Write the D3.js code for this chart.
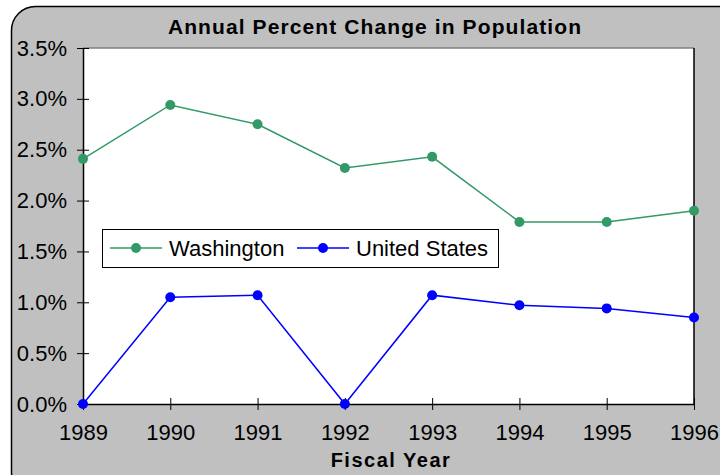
<!DOCTYPE html>
<html>
<head>
<meta charset="utf-8">
<script src="https://cdn.jsdelivr.net/npm/d3@7"></script>
<style>
  body { margin: 0; background: #fff; }
  svg { display: block; font-family: "Liberation Sans", Arial, sans-serif; }
</style>
</head>
<body>
<div id="chart"></div>
<script>
const width = 720;
const height = 475;

// data
const years = [1989, 1990, 1991, 1992, 1993, 1994, 1995, 1996];
const washington = [2.41, 2.94, 2.75, 2.32, 2.43, 1.79, 1.79, 1.90];
const unitedStates = [0.0, 1.05, 1.07, 0.0, 1.07, 0.97, 0.94, 0.85];
const yTicks = [0, 0.5, 1.0, 1.5, 2.0, 2.5, 3.0, 3.5];
const seriesNames = ["Washington", "United States"];
const seriesColors = ["#339966", "#0000ff"];

const margin = { top: 48, right: 26, bottom: 71, left: 83 };

const svg = d3.select("#chart").append("svg").attr("width", width).attr("height", height);

// outer chart frame
svg.append("rect")
  .attr("x", 11.5).attr("y", 6.5)
  .attr("width", 730).attr("height", 490)
  .attr("rx", 24).attr("ry", 24)
  .attr("fill", "#c0c0c0")
  .attr("stroke", "#000")
  .attr("stroke-width", 1.5);

const x = d3.scalePoint().domain(years).range([margin.left, width - margin.right]);
const y = d3.scaleLinear().domain([0, 3.5]).range([height - margin.bottom, margin.top]);

// plot area
svg.append("rect")
  .attr("x", margin.left).attr("y", margin.top)
  .attr("width", width - margin.right - margin.left)
  .attr("height", height - margin.bottom - margin.top)
  .attr("fill", "#fff");
svg.append("line")
  .attr("x1", margin.left).attr("x2", width - margin.right)
  .attr("y1", margin.top).attr("y2", margin.top)
  .attr("stroke", "#808080").attr("stroke-width", 1.5);
svg.append("line")
  .attr("x1", width - margin.right).attr("x2", width - margin.right)
  .attr("y1", margin.top).attr("y2", height - margin.bottom)
  .attr("stroke", "#000").attr("stroke-width", 1.5);

// title
svg.append("text")
  .attr("x", 375).attr("y", 34)
  .attr("text-anchor", "middle")
  .attr("font-size", 21).attr("font-weight", "bold")
  .attr("letter-spacing", 1.1)
  .text("Annual Percent Change in Population");

const tickFont = 22;

// y axis
const yAxis = svg.append("g")
  .attr("transform", `translate(${margin.left},0)`)
  .call(d3.axisLeft(y).tickValues(yTicks).tickFormat(d => d.toFixed(1) + "%").tickSizeInner(6).tickSizeOuter(0).tickPadding(10));
yAxis.selectAll(".tick line").attr("x1", 6).attr("x2", -6).attr("stroke", "#000");
yAxis.select(".domain").attr("stroke", "#000").attr("stroke-width", 1.5);
yAxis.selectAll("text").attr("font-size", tickFont).attr("fill", "#000").attr("font-family", "Liberation Sans, Arial, sans-serif");

// x axis
const xAxis = svg.append("g")
  .attr("transform", `translate(0,${height - margin.bottom})`)
  .call(d3.axisBottom(x).tickSizeInner(6).tickSizeOuter(0).tickPadding(14));
xAxis.selectAll(".tick line").attr("y1", -6).attr("y2", 6).attr("stroke", "#000");
xAxis.select(".domain").attr("stroke", "#000").attr("stroke-width", 1.5);
xAxis.selectAll("text").attr("font-size", tickFont).attr("fill", "#000").attr("font-family", "Liberation Sans, Arial, sans-serif");

svg.append("text")
  .attr("x", 391).attr("y", 467)
  .attr("text-anchor", "middle")
  .attr("font-size", 20).attr("font-weight", "bold")
  .attr("letter-spacing", 1.5)
  .text("Fiscal Year");

// series
const line = d3.line().x((d, i) => x(years[i])).y(d => y(d));
[washington, unitedStates].forEach((vals, k) => {
  svg.append("path")
    .datum(vals)
    .attr("fill", "none")
    .attr("stroke", seriesColors[k])
    .attr("stroke-width", 1.5)
    .attr("d", line);
  svg.append("g").selectAll("circle")
    .data(vals)
    .join("circle")
    .attr("cx", (d, i) => x(years[i]))
    .attr("cy", d => y(d))
    .attr("r", 5)
    .attr("fill", seriesColors[k]);
});

// legend
const legend = svg.append("g");
legend.append("rect")
  .attr("x", 102.5).attr("y", 229.5)
  .attr("width", 396).attr("height", 38)
  .attr("fill", "#fff").attr("stroke", "#000").attr("stroke-width", 1);
const legendX = [110, 297];
seriesNames.forEach((name, k) => {
  const lx = legendX[k];
  legend.append("line")
    .attr("x1", lx).attr("x2", lx + 52)
    .attr("y1", 248).attr("y2", 248)
    .attr("stroke", seriesColors[k]).attr("stroke-width", 1.5);
  legend.append("circle")
    .attr("cx", lx + 26).attr("cy", 248).attr("r", 5)
    .attr("fill", seriesColors[k]);
  legend.append("text")
    .attr("x", lx + 59).attr("y", 255.5)
    .attr("font-size", 22)
    .text(name);
});
</script>
</body>
</html>
